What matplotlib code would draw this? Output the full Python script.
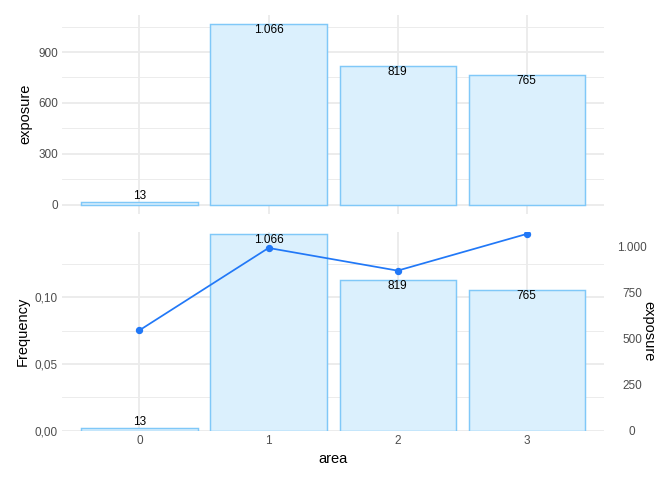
import matplotlib
matplotlib.use("Agg")
import matplotlib.pyplot as plt
from matplotlib.ticker import FixedLocator, FuncFormatter
import numpy as np

plt.rcParams["font.family"] = ["Liberation Sans", "DejaVu Sans"]

areas = ["0", "1", "2", "3"]
exposure = [13, 1066, 819, 765]
frequency = [0.0753, 0.1370, 0.1200, 0.1475]

BAR_FILL = "#DBF0FD"
BAR_EDGE = "#80C8F8"
LINE_COL = "#2178F7"
GRID = "#EBEBEB"
TICK_COL = "#4D4D4D"


def thousands(v):
    # german style: dot as thousands separator
    return f"{int(round(v)):,}".replace(",", ".")


def comma_dec(v, _pos=None):
    return f"{v:.2f}".replace(".", ",")


def style_axis(ax):
    for s in ax.spines.values():
        s.set_visible(False)
    ax.tick_params(axis="both", which="both", length=0, labelsize=8.8,
                   labelcolor=TICK_COL, pad=3)
    ax.grid(which="major", color=GRID, linewidth=1.4)
    ax.grid(which="minor", axis="y", color=GRID, linewidth=0.7)
    ax.set_axisbelow(True)


def add_labels(ax, xs, ys, texts):
    lo, hi = ax.get_ylim()
    mid = (lo + hi) / 2
    for x, y, t in zip(xs, ys, texts):
        # ggplot vjust="inward"
        va = "top" if y > mid else "bottom"
        ax.text(x, y, t, ha="center", va=va, fontsize=8.8, color="black", zorder=5)


x = np.arange(len(areas))
fig = plt.figure(figsize=(7, 5), dpi=96)

# top panel: exposure
ax1 = fig.add_axes([0.0923, 0.555, 0.8067, 0.414])
ax1.bar(x, exposure, width=0.9, color=BAR_FILL, edgecolor=BAR_EDGE, linewidth=1.1)
pad = max(exposure) * 0.05
ax1.set_ylim(-pad, max(exposure) + pad)
ax1.set_xlim(-0.6, len(areas) - 0.4)
ax1.yaxis.set_major_locator(FixedLocator([0, 300, 600, 900]))
ax1.yaxis.set_minor_locator(FixedLocator([150, 450, 750, 1050]))
ax1.set_xticks(x)
ax1.set_xticklabels([])
ax1.set_ylabel("exposure", fontsize=11, labelpad=4)
style_axis(ax1)
add_labels(ax1, x, exposure, [thousands(v) for v in exposure])

# bottom panel: frequency line + scaled exposure bars
scale = max(frequency) / max(exposure)
scaled = [v * scale for v in exposure]
ax2 = fig.add_axes([0.0923, 0.1027, 0.8067, 0.414])
ax2.bar(x, scaled, width=0.9, color=BAR_FILL, edgecolor=BAR_EDGE, linewidth=1.1, zorder=2)
ax2.plot(x, frequency, color=LINE_COL, linewidth=1.3, marker="o", markersize=4.5, zorder=4)
ax2.set_ylim(0, max(frequency) * 1.01)
ax2.set_xlim(-0.6, len(areas) - 0.4)
ax2.yaxis.set_major_locator(FixedLocator([0, 0.05, 0.10]))
ax2.yaxis.set_minor_locator(FixedLocator([0.025, 0.075, 0.125]))
ax2.yaxis.set_major_formatter(FuncFormatter(comma_dec))
ax2.set_xticks(x)
ax2.set_xticklabels(areas)
ax2.set_xlabel("area", fontsize=11, labelpad=4)
ax2.set_ylabel("Frequency", fontsize=11, labelpad=4)
style_axis(ax2)
add_labels(ax2, x, scaled, [thousands(v) for v in exposure])

# secondary axis in exposure units
ax3 = ax2.twinx()
lo, hi = ax2.get_ylim()
ax3.set_ylim(lo / scale, hi / scale)
ax3.yaxis.set_major_locator(FixedLocator([0, 250, 500, 750, 1000]))
ax3.yaxis.set_major_formatter(FuncFormatter(lambda v, p: thousands(v)))
for s in ax3.spines.values():
    s.set_visible(False)
ax3.tick_params(axis="y", which="both", length=0, labelsize=8.8,
                labelcolor=TICK_COL, pad=21)
for lab in ax3.get_yticklabels():
    lab.set_horizontalalignment("center")
ax3.text(1.082, 0.5, "exposure", transform=ax3.transAxes, rotation=-90,
         ha="center", va="center", fontsize=11)

fig.savefig("out.png", dpi=96)
